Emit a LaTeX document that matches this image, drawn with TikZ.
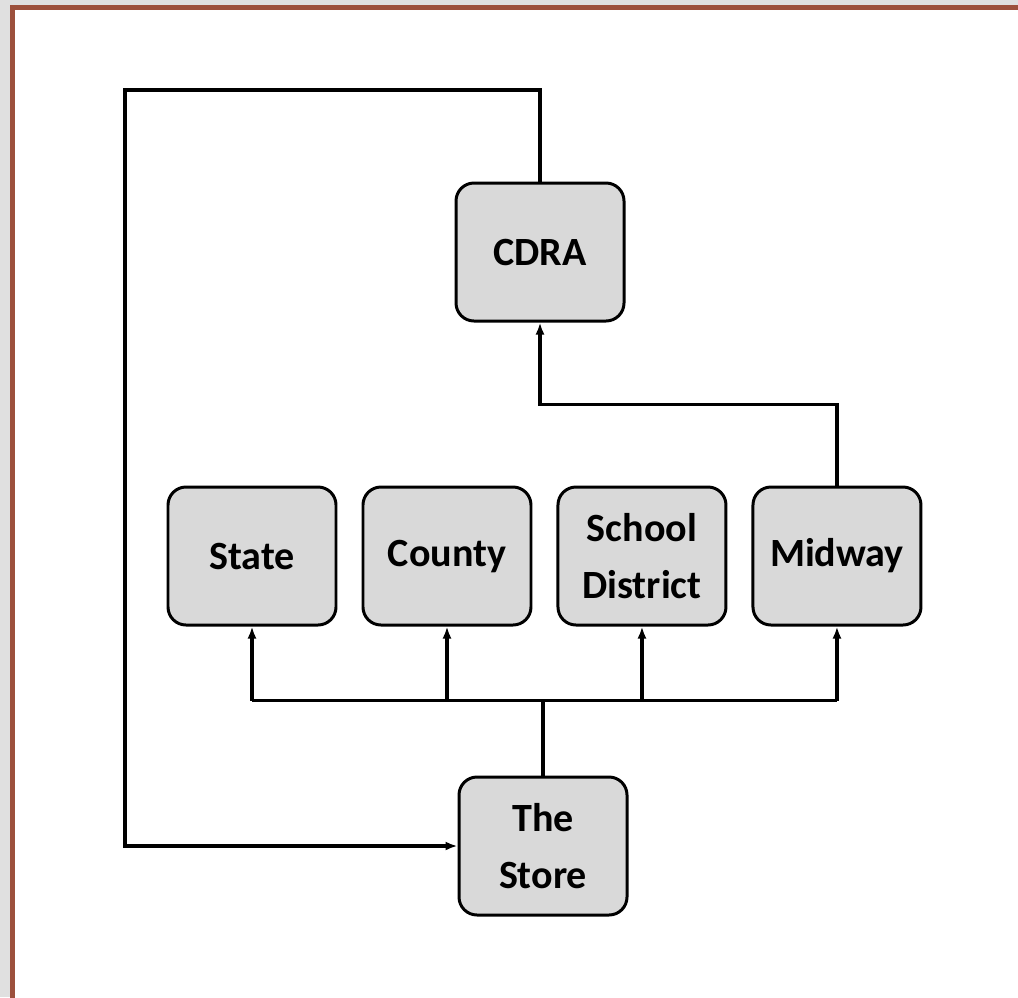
\documentclass[tikz,border=0pt]{standalone}
\usepackage{fontspec}
\setmainfont{Carlito}
\usepackage{xcolor}
\usepackage{tikz}
\usetikzlibrary{calc}
\usetikzlibrary{positioning}
\usetikzlibrary{arrows.meta}
\definecolor{framebrown}{RGB}{156,80,60}
\definecolor{pagegray}{RGB}{224,224,224}
\definecolor{boxgray}{RGB}{217,217,217}

\begin{document}
\begin{tikzpicture}

                \def\g{.48cm}

                % Styles for the boxes and the connectors
                \tikzset{
                    unit/.style={draw, line width=1.7pt, fill=boxgray,
                        rounded corners=.36cm, minimum width=3.36cm,
                        minimum height=2.76cm, align=center,
                        font=\fontsize{22.8}{32.4}\selectfont\bfseries},
                    link/.style={line width=1.8pt},
                    arr/.style={link, -{Latex[length=.24cm,width=.18cm]}}
                }

                % Page background and frame
                \useasboundingbox (0,0) rectangle (20.36,-19.94);
                \fill[pagegray] (0,0) rectangle (20.36,-19.94);
                \draw[framebrown, line width=.1cm, fill=white]
                    (.24,-.15) rectangle (21,-21);

                \node[unit] (cdra) at (10.8,-5.04) {CDRA};
                \node[unit] (state) at (5.04,-11.12) {State};
                \node[unit] (county) [right=\g of state] {County};
                \node[unit] (school) [right=\g of county]
                {School\\District};
                \node[unit] (midway) [right=\g of school] {Midway};
                \node[unit] (store) at (10.86,-16.92) {The\\Store};

                \coordinate (loop) at (2.5,-1.8);
                \coordinate (mj) at ($(midway.north)+(0,1.62)$);
                \coordinate (bus) at ($(store.north)+(0,1.5)$);

                \begin{scope}[link]
                    \draw[arr] (cdra.north) |- (loop) |- (store.west);
                    \draw[arr] (midway.north) -- (mj) -| (cdra.south);
                    \draw[line width=2.4pt] (store.north) -- (bus);
                    \draw (state.south |- bus) -- (midway.south |- bus);
                    \foreach \n in {state,county,school,midway}
                        \draw[arr] (\n.south |- bus) -- (\n.south);
                \end{scope}

\end{tikzpicture}
\end{document}
